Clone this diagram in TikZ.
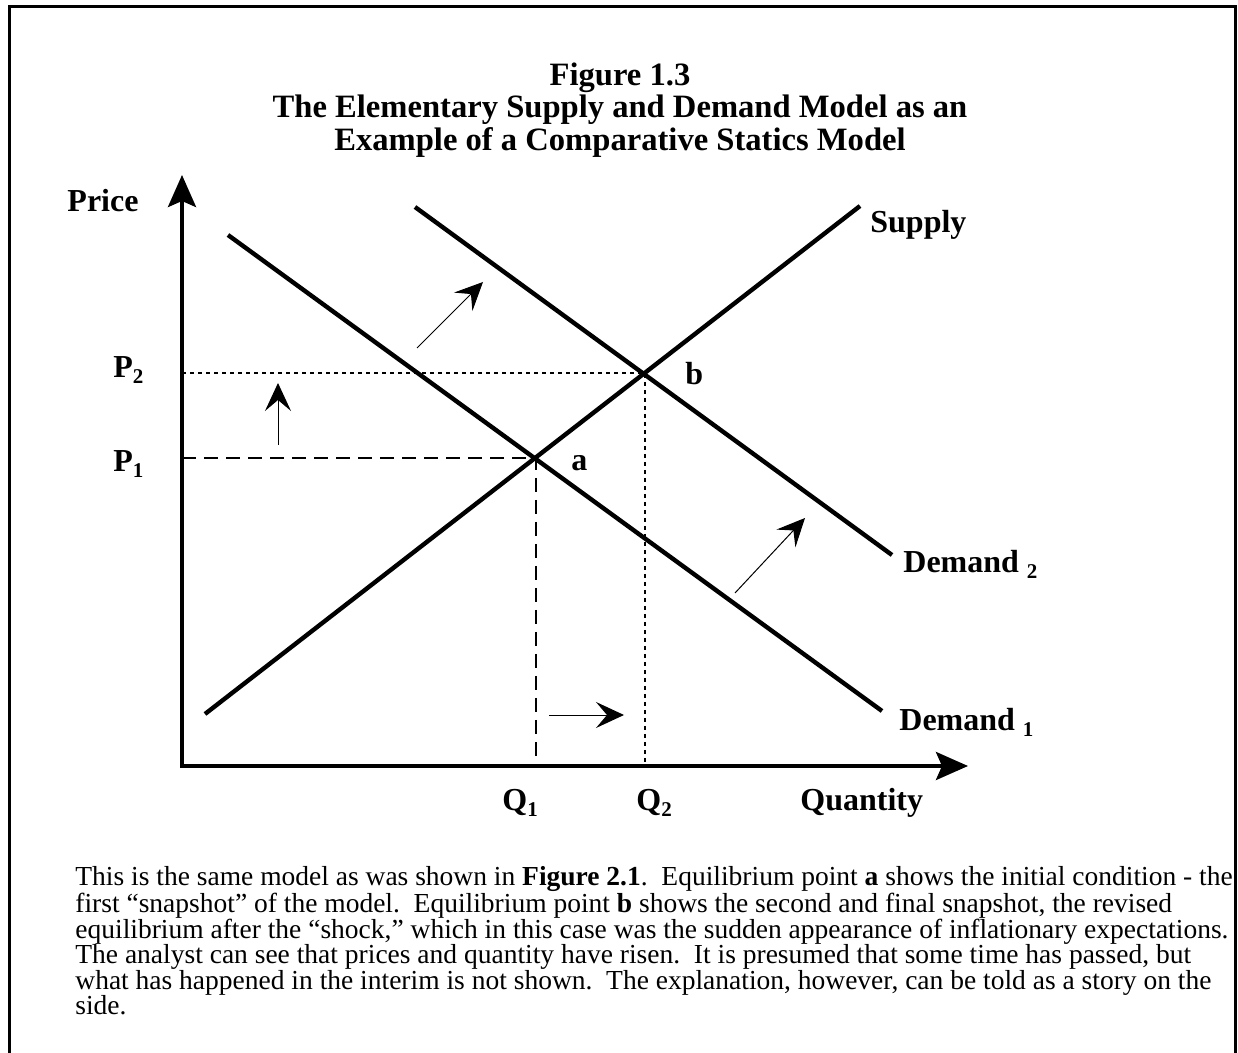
\documentclass[tikz,border=0pt]{standalone}
\usepackage{fontspec}
\setmainfont{Liberation Serif}
\usetikzlibrary{arrows.meta,positioning}

\newcommand{\lowsub}[1]{\raisebox{-3pt}{\fontsize{10.5}{10.5}\selectfont\bfseries #1}}

\begin{document}
\begin{tikzpicture}[x=0.5pt,y=-0.5pt,
      axis/.style={line width=2pt,{Stealth[length=16pt,width=14pt,inset=3pt]}-{Stealth[length=16pt,width=14pt,inset=3pt]}},
      curve/.style={line width=2.2pt},
      shift arrow/.style={line width=0.5pt,-{Stealth[length=14pt,width=13pt,inset=5.5pt]}},
      label node/.style={font=\fontsize{16}{18}\selectfont\bfseries,inner sep=0pt},
      dash guide/.style={line width=0.6pt,dash pattern=on 7pt off 4pt},
      dot guide/.style={line width=0.7pt,dash pattern=on 2pt off 2pt}]

    \useasboundingbox (0,0) rectangle (1238,1053);
    \draw[line width=1.5pt] (9,1053) -- (9,7) -- (1235,7) -- (1235,1053);

    \node[label node, align=center, anchor=north, font=\fontsize{16.3}{16.3}\selectfont\bfseries] (title) at (620,62)
      {Figure 1.3\\ The Elementary Supply and Demand Model as an\\ Example of a Comparative Statics Model};

    % axes and the two equilibria
    \coordinate (o) at (182,766);
    \coordinate (ytop) at (182,175);
    \coordinate (xend) at (968,766);
    \coordinate (a) at (536,458);
    \coordinate (b) at (645,373);
    \draw[axis] (ytop) -- (o) -- (xend);

    \coordinate (s0) at (205,714);  \coordinate (s1) at (860,206);
    \coordinate (d10) at (228,235); \coordinate (d11) at (882,711);
    \coordinate (d20) at (415,207); \coordinate (d21) at (892,555);
    \draw[curve] (s0) -- (s1);
    \draw[curve] (d10) -- (d11);
    \draw[curve] (d20) -- (d21);

    \draw[dash guide] (o |- a) -- (a) -- (a |- o);
    \draw[dot guide] (o |- b) -- (b) -- (b |- o);

    % shifts
    \coordinate (up0) at (278,445);  \coordinate (up1) at (278,383);
    \coordinate (rt0) at (549,715);  \coordinate (rt1) at (624,715);
    \coordinate (dg0) at (417,348);  \coordinate (dg1) at (483,282);
    \coordinate (dh0) at (735,593);  \coordinate (dh1) at (805,518);
    \draw[shift arrow] (up0) -- (up1);
    \draw[shift arrow] (rt0) -- (rt1);
    \draw[shift arrow] (dg0) -- (dg1);
    \draw[shift arrow] (dh0) -- (dh1);

    \node[label node] (price) at (103,201) {Price};
    \node[label node, anchor=base west] (supply) at (870,233) {Supply};
    \node[label node, anchor=base west] (dem2) at (903,573) {Demand \lowsub{2}};
    \node[label node, anchor=base west] (dem1) at (899,730) {Demand \lowsub{1}};
    \node[label node, anchor=base west] (p2) at (113,378) {P\lowsub{2}};
    \node[label node, anchor=base west] (p1) at (113,472) {P\lowsub{1}};
    \node[label node, anchor=base west] (q1) at (502,810) {Q\lowsub{1}};
    \node[label node, anchor=base west] (q2) at (636,810) {Q\lowsub{2}};
    \node[label node, anchor=base west] (qty) at (800,810) {Quantity};
    \node[label node, anchor=base west] (pa) at (571,471) {a};
    \node[label node, anchor=base west] (pb) at (685,385) {b};

    \node[anchor=north west, align=left, inner sep=0pt, font=\fontsize{13.75}{12.7}\selectfont] (note) at (75,866)
      {This is the same model as was shown in \textbf{Figure 2.1}.\ \ Equilibrium point \textbf{a} shows the initial condition - the\\
       first “snapshot” of the model.\ \ Equilibrium point \textbf{b} shows the second and final snapshot, the revised\\
       equilibrium after the “shock,” which in this case was the sudden appearance of inflationary expectations.\\
       The analyst can see that prices and quantity have risen.\ \ It is presumed that some time has passed, but\\
       what has happened in the interim is not shown.\ \ The explanation, however, can be told as a story on the\\
       side.};

\end{tikzpicture}
\end{document}
